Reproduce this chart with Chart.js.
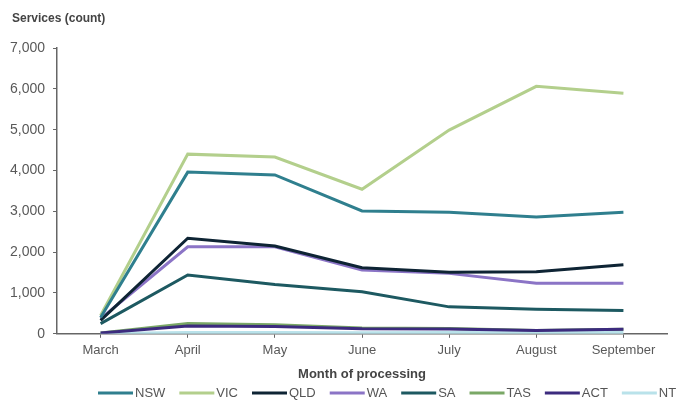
<!DOCTYPE html>
<html>
<head>
<meta charset="utf-8">
<script src="https://cdn.jsdelivr.net/npm/chart.js@4.4.1/dist/chart.umd.min.js"></script>
<style>
  html, body { margin: 0; padding: 0; background: #ffffff; }
  #wrap { position: relative; width: 677px; height: 400px; }
</style>
</head>
<body>
<div id="wrap"><canvas id="c" width="677" height="400"></canvas></div>
<script>
// Month of processing
const months = ['March', 'April', 'May', 'June', 'July', 'August', 'September'];

// Services (count) by state / territory
const nsw = [400, 3960, 3890, 3010, 2980, 2860, 2980];
const vic = [450, 4400, 4330, 3540, 4990, 6060, 5890];
const qld = [330, 2340, 2150, 1620, 1510, 1520, 1690];
const wa  = [370, 2130, 2130, 1560, 1480, 1240, 1240];
const sa  = [250, 1440, 1210, 1030, 660, 600, 570];
const tas = [20, 250, 220, 140, 130, 80, 110];
const act = [20, 190, 180, 125, 120, 80, 110];
const nt  = [5, 30, 30, 25, 30, 25, 30];

const seriesNames = ['NSW', 'VIC', 'QLD', 'WA', 'SA', 'TAS', 'ACT', 'NT'];
const seriesData = [nsw, vic, qld, wa, sa, tas, act, nt];
const seriesColors = ['#2f7f8e', '#b3cf8c', '#0e2434', '#8b74c6', '#1d5961', '#7aa866', '#3c2b7e', '#b9e2ea'];
// stacking of the lines: lower value is drawn on top
const drawOrder = [0, 1, 2, 3, 4, 7, 5, 6];

const FONT = "'Liberation Sans', Arial, sans-serif";

const datasets = seriesNames.map((name, i) => ({
  label: name,
  data: seriesData[i],
  borderColor: seriesColors[i],
  backgroundColor: seriesColors[i],
  borderWidth: 3,
  pointRadius: 0,
  tension: 0,
  fill: false,
  order: drawOrder[i]
}));

// axis caption above the value axis
const yCaption = {
  id: 'yCaption',
  afterDraw(chart) {
    const ctx = chart.ctx;
    ctx.save();
    ctx.font = "bold 12px " + FONT;
    ctx.fillStyle = '#444';
    ctx.textBaseline = 'middle';
    ctx.textAlign = 'left';
    ctx.fillText('Services (count)', 12, 19);
    ctx.restore();
  }
};

// compact line legend along the bottom edge
const lineLegend = {
  id: 'lineLegend',
  afterDraw(chart) {
    const ctx = chart.ctx;
    const sets = chart.data.datasets;
    const lineLen = 35, textGap = 2, itemGap = 14, y = 393;
    ctx.save();
    ctx.font = "13px " + FONT;
    ctx.textBaseline = 'middle';
    ctx.textAlign = 'left';
    let x = 98;
    sets.forEach(ds => {
      ctx.strokeStyle = ds.borderColor;
      ctx.lineWidth = 3;
      ctx.beginPath();
      ctx.moveTo(x, y);
      ctx.lineTo(x + lineLen, y);
      ctx.stroke();
      x += lineLen + textGap;
      ctx.fillStyle = '#555';
      ctx.fillText(ds.label, x, y);
      x += ctx.measureText(ds.label).width + itemGap;
    });
    ctx.restore();
  }
};

new Chart(document.getElementById('c'), {
  type: 'line',
  data: { labels: months, datasets },
  plugins: [yCaption, lineLegend],
  options: {
    responsive: false,
    animation: false,
    layout: { padding: { top: 48, left: 2, right: 10, bottom: 18 } },
    plugins: {
      tooltip: { enabled: false },
      title: { display: false },
      legend: { display: false }
    },
    scales: {
      x: {
        offset: true,
        border: { display: true, color: '#666', width: 1.5 },
        grid: { offset: false, drawOnChartArea: false, drawTicks: true, tickLength: 4, color: '#666' },
        ticks: { color: '#595959', font: { family: FONT, size: 13 }, padding: 5, maxRotation: 0 },
        title: {
          display: true,
          text: 'Month of processing',
          color: '#444',
          font: { family: FONT, size: 13, weight: 'bold' },
          padding: { top: 3, bottom: 0 }
        }
      },
      y: {
        min: 0,
        max: 7000,
        border: { display: true, color: '#666', width: 1.5 },
        grid: { drawOnChartArea: false, drawTicks: true, tickLength: 4, color: '#666' },
        ticks: { stepSize: 1000, color: '#595959', font: { family: FONT, size: 14 }, padding: 8 }
      }
    }
  }
});
</script>
</body>
</html>
